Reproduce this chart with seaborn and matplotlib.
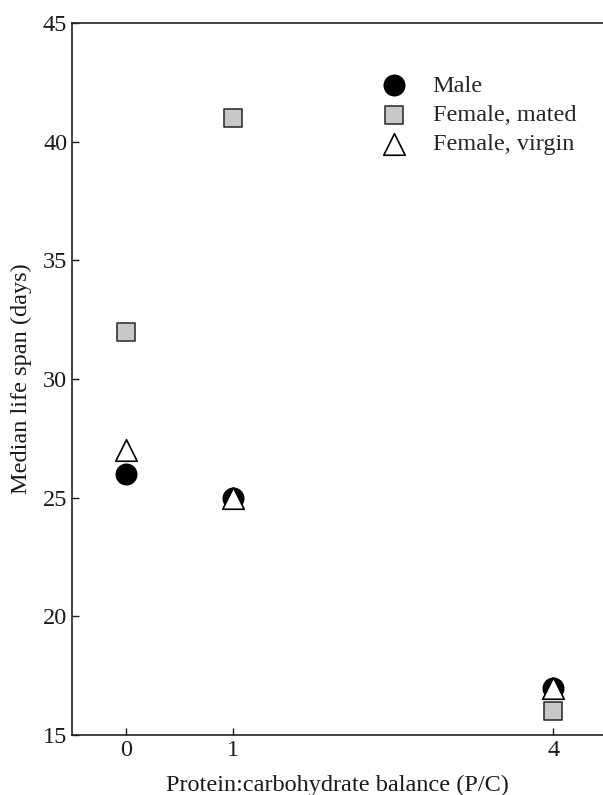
import numpy as np
import pandas as pd
import matplotlib
matplotlib.use('Agg')
import matplotlib.pyplot as plt
import seaborn as sns

# median life span by P/C ratio
pc_ratio = [0, 1, 4]
male = [26, 25, 17]
female_mated = [32, 41, 16]
female_virgin = [27, 25, 17]

sns.set_style('ticks')
plt.rcParams['font.family'] = ['Liberation Serif', 'DejaVu Serif']

fig = plt.figure(figsize=(6.03, 7.95), dpi=100)
ax = fig.add_axes([0.1194, 0.0755, 0.88, 0.8955])

sns.scatterplot(x=pc_ratio, y=male, ax=ax, marker='o', s=220,
                color='black', edgecolor='black', linewidth=1, label='Male', zorder=3)
sns.scatterplot(x=pc_ratio, y=female_mated, ax=ax, marker='s', s=170,
                color='#c8c8c8', edgecolor='#333333', linewidth=1.2, label='Female, mated', zorder=3)
sns.scatterplot(x=pc_ratio, y=female_virgin, ax=ax, marker='^', s=240,
                color='white', edgecolor='black', linewidth=1.2, label='Female, virgin', zorder=4)

ax.set_xlim(-0.505, 4.46)
ax.set_ylim(15, 45)
ax.set_xticks(pc_ratio)
ax.set_yticks([15, 20, 25, 30, 35, 40, 45])
ax.tick_params(direction='in', length=5, width=1, labelsize=17.5, colors='#1a1a1a')
ax.spines['right'].set_visible(False)
for s in ['left', 'bottom', 'top']:
    ax.spines[s].set_linewidth(1.2)
    ax.spines[s].set_color('#222222')

ax.set_xlabel('Protein:carbohydrate balance (P/C)', fontsize=17.5, labelpad=10, color='#1a1a1a')
ax.set_ylabel('Median life span (days)', fontsize=17.5, labelpad=8, color='#1a1a1a')

ax.legend(loc='upper left', bbox_to_anchor=(0.542, 0.941), frameon=False,
          fontsize=17.5, handletextpad=0.6, labelspacing=0.3, borderaxespad=0)

fig.savefig('out.png', dpi=100)
